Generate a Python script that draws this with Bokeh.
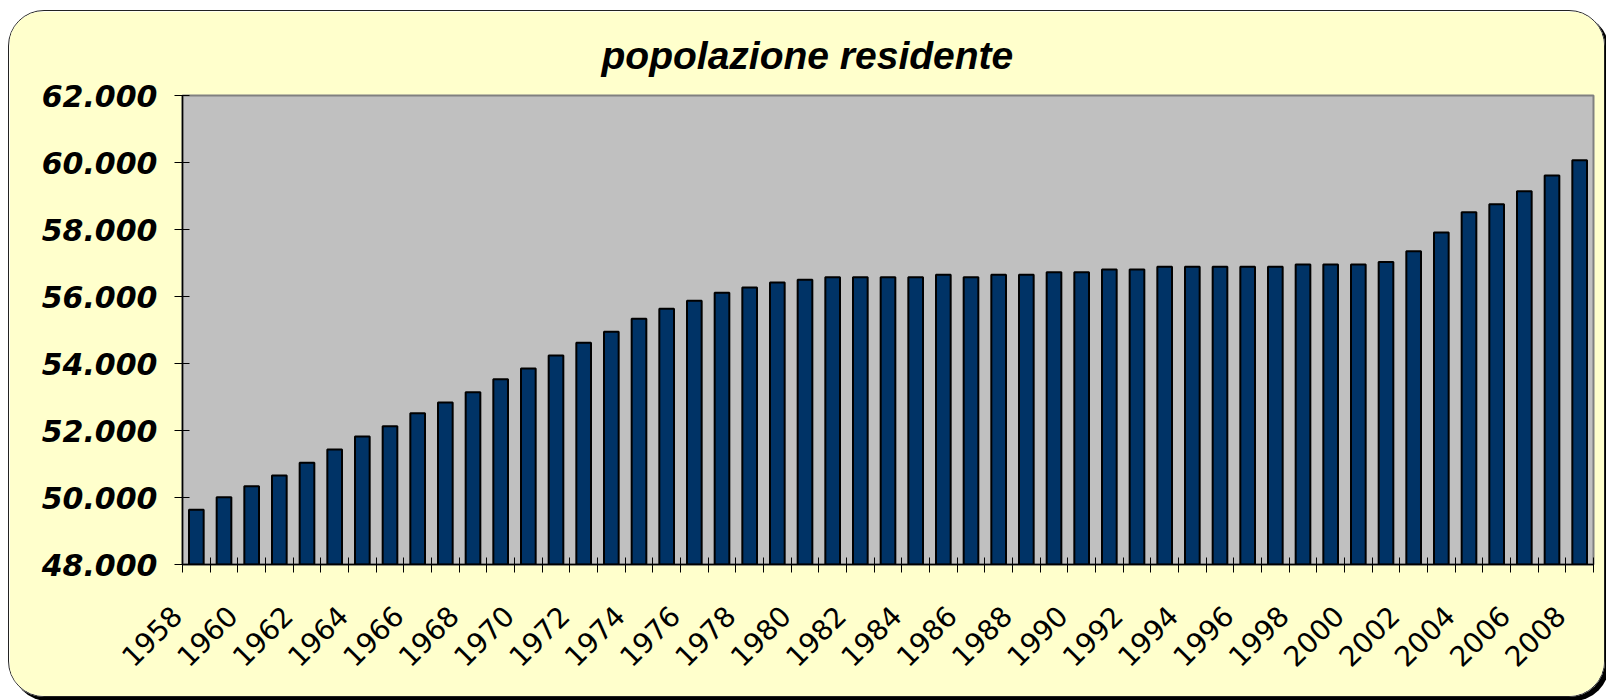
import math
from bokeh.plotting import figure
from bokeh.models import Range1d, FixedTicker, ColumnDataSource
from bokeh.embed import file_html
from bokeh.resources import INLINE

# ---- data (population, thousands) ----
years = list(range(1958, 2009))
population = [
    49633, 50010, 50337, 50657, 51036, 51433, 51821, 52130, 52517, 52836,
    53144, 53532, 53851, 54239, 54620, 54946, 55334, 55633, 55872, 56110,
    56269, 56418, 56498, 56577, 56577, 56577, 56577, 56647, 56577, 56647,
    56647, 56726, 56726, 56806, 56806, 56886, 56886, 56886, 56886, 56886,
    56955, 56955, 56955, 57030, 57353, 57910, 58517, 58756, 59143, 59612,
    60070,
]
label_years = list(range(1958, 2009, 2))
x_tick_labels = [str(y) for y in label_years]
y_ticks = list(range(48000, 62001, 2000))
y_tick_labels = ["48.000", "50.000", "52.000", "54.000", "56.000", "58.000", "60.000", "62.000"]
title_text = "popolazione residente"

Y_MIN, Y_MAX = 48000, 62000
PAD = "\u00a0" * 3  # trailing padding so rotated labels sit left of their bar, as in Excel

p = figure(
    frame_width=1411, frame_height=469,
    min_border_left=173, min_border_right=11, min_border_top=84, min_border_bottom=132,
    x_range=Range1d(1957.5, 2008.5), y_range=Range1d(Y_MIN, Y_MAX),
    output_backend="svg", toolbar_location=None, tools="",
    title=title_text,
)
p.margin = (10, 0, 0, 8)
p.styles = {
    "border-radius": "36px",
    "border": "1px solid #222222",
    "box-shadow": "4px 4px 0px #000000",
    "overflow": "hidden",
}
p.border_fill_color = "#FFFFCC"
p.background_fill_color = "#C0C0C0"
p.outline_line_color = "#808080"
p.outline_line_width = 2
p.grid.visible = False

p.title.text_font = "Liberation Sans"
p.title.text_font_style = "bold italic"
p.title.text_font_size = "39px"
p.title.text_color = "black"
p.title.align = "left"
p.title.offset = 419
p.title.standoff = 37

src = ColumnDataSource(dict(x=years, top=population))
p.vbar(x="x", top="top", bottom=Y_MIN, width=0.53, source=src,
       fill_color="#003366", line_color="black", line_width=2)

# y axis
ya = p.yaxis[0]
ya.ticker = FixedTicker(ticks=y_ticks, minor_ticks=[])
ya.major_label_overrides = {t: l for t, l in zip(y_ticks, y_tick_labels)}
ya.major_label_text_font = "DejaVu Sans"
ya.major_label_text_font_style = "bold italic"
ya.major_label_text_font_size = "30px"
ya.major_label_text_color = "black"
ya.major_label_standoff = 17
ya.major_tick_in = 7
ya.major_tick_out = 8
ya.major_tick_line_color = "black"
ya.axis_line_color = "black"
ya.axis_line_width = 1.5

# x axis: tick marks at category boundaries, labels every two years
xa = p.xaxis[0]
boundaries = [1957.5 + i for i in range(len(years) + 1)]
xa.ticker = FixedTicker(ticks=label_years, minor_ticks=boundaries)
xa.major_label_overrides = {t: l + PAD for t, l in zip(label_years, x_tick_labels)}
xa.major_label_orientation = math.pi / 4
xa.major_label_text_font = "DejaVu Sans"
xa.major_label_text_font_size = "28px"
xa.major_label_text_color = "black"
xa.major_label_standoff = 20
xa.major_tick_line_color = None
xa.major_tick_in = 0
xa.major_tick_out = 0
xa.minor_tick_in = 7
xa.minor_tick_out = 8
xa.minor_tick_line_color = "black"
xa.axis_line_color = "black"
xa.axis_line_width = 1.5

open("out.html", "w").write(file_html(p, INLINE))
